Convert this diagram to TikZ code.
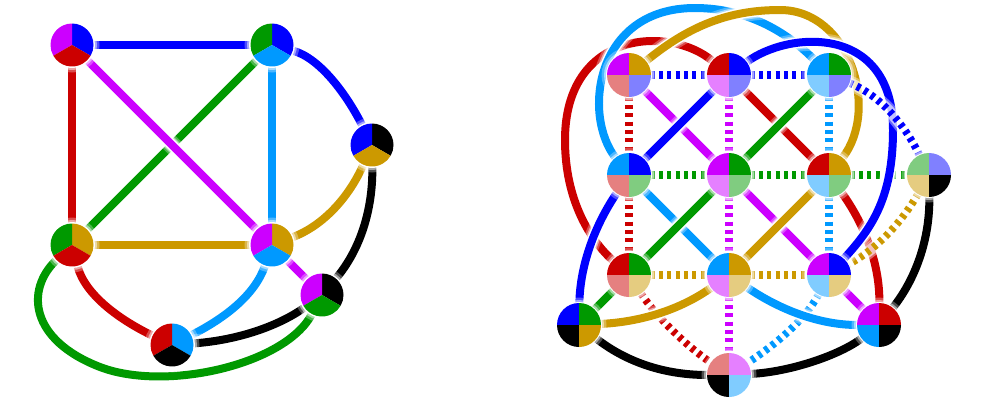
\documentclass[tikz,border=0pt]{standalone}
\definecolor{cP}{HTML}{CC00FF}
\definecolor{cB}{HTML}{0000FF}
\definecolor{cR}{HTML}{CC0000}
\definecolor{cG}{HTML}{009900}
\definecolor{cL}{HTML}{0099FF}
\definecolor{cY}{HTML}{CC9900}
\definecolor{cK}{HTML}{000000}
\colorlet{lP}{cP!50!white}
\colorlet{lB}{cB!50!white}
\colorlet{lR}{cR!50!white}
\colorlet{lG}{cG!50!white}
\colorlet{lL}{cL!50!white}
\colorlet{lY}{cY!50!white}
\newcommand\vhalo[1]{%
 \fill[white,opacity=0.3] (#1) circle[radius=27.5pt];
 \fill[white,opacity=0.5] (#1) circle[radius=25pt];
 \fill[white] (#1) circle[radius=23pt];}
% three-sector pie: #2 right, #3 left, #4 bottom
\newcommand\vpieT[4]{%
 \vhalo{#1}%
 \fill[#2] (#1.center) -- ++(90:21.5pt) arc[start angle=90,end angle=-30,radius=21.5pt] -- cycle;
 \fill[#3] (#1.center) -- ++(90:21.5pt) arc[start angle=90,end angle=210,radius=21.5pt] -- cycle;
 \fill[#4] (#1.center) -- ++(210:21.5pt) arc[start angle=210,end angle=330,radius=21.5pt] -- cycle;}
% four quadrants: #2 TL, #3 TR, #4 BL, #5 BR
\newcommand\vpieQ[5]{%
 \vhalo{#1}%
 \fill[#2] (#1.center) -- ++(90:22pt) arc[start angle=90,end angle=180,radius=22pt] -- cycle;
 \fill[#3] (#1.center) -- ++(0:22pt) arc[start angle=0,end angle=90,radius=22pt] -- cycle;
 \fill[#4] (#1.center) -- ++(180:22pt) arc[start angle=180,end angle=270,radius=22pt] -- cycle;
 \fill[#5] (#1.center) -- ++(270:22pt) arc[start angle=270,end angle=360,radius=22pt] -- cycle;}
\begin{document}
\begin{tikzpicture}[x=1pt,y=-1pt,
 vtx/.style={circle, minimum size=43pt, inner sep=0pt},
 edge/.style={line width=8pt,
   preaction={draw=white, solid, line width=18pt, opacity=0.3},
   preaction={draw=white, solid, line width=14pt, opacity=0.5},
   preaction={draw=white, solid, line width=11pt}},
 dedge/.style={line width=7.5pt, dash pattern=on 4pt off 4.3pt},
 hdedge/.style={dedge,
   preaction={draw=white, solid, line width=15pt, opacity=0.4},
   preaction={draw=white, solid, line width=11pt, opacity=0.6}}]
\fill[white] (0,0) rectangle (983,400);
\useasboundingbox (0,0) rectangle (983,400);
% ---------- left graph ----------
\node[vtx] (A) at (72,45) {};
\node[vtx] (B) at (272,45) {};
\node[vtx] (C) at (372,145) {};
\node[vtx] (D) at (72,245) {};
\node[vtx] (E) at (272,245) {};
\node[vtx] (F) at (322,295) {};
\node[vtx] (G) at (172,345) {};
\draw[edge,cB] (A) -- (B);
\draw[edge,cR] (A) -- (D);
\draw[edge,cG] (B) -- (D);
\draw[edge,cP] (A) -- (E);
\draw[edge,cL] (B) -- (E);
\draw[edge,cY] (D) -- (E);
\draw[edge,cP] (E) -- (F);
\draw[edge,cB] (B) .. controls (320,58) and (347,95) .. (C);
\draw[edge,cY] (E) .. controls (325,225) and (350,195) .. (C);
\draw[edge,cK] (C) .. controls (373,210) and (360,250) .. (F);
\draw[edge,cR] (D) .. controls (85,295) and (120,320) .. (G);
\draw[edge,cL] (E) .. controls (255,295) and (225,318) .. (G);
\draw[edge,cK] (G) .. controls (240,340) and (280,325) .. (F);
\draw[edge,cG] (D) .. controls (25,290) and (30,340) .. (100,367) .. controls (165,392) and (285,365) .. (F);
\vpieT{A}{cB}{cP}{cR}
\vpieT{B}{cB}{cG}{cL}
\vpieT{C}{cK}{cB}{cY}
\vpieT{D}{cY}{cG}{cR}
\vpieT{E}{cY}{cP}{cL}
\vpieT{F}{cK}{cP}{cG}
\vpieT{G}{cL}{cR}{cK}
% ---------- right graph ----------
\node[vtx] (R1) at (629,75) {};
\node[vtx] (R2) at (729,75) {};
\node[vtx] (R3) at (829,75) {};
\node[vtx] (R4) at (629,175) {};
\node[vtx] (R5) at (729,175) {};
\node[vtx] (R6) at (829,175) {};
\node[vtx] (R7) at (929,175) {};
\node[vtx] (R8) at (629,275) {};
\node[vtx] (R9) at (729,275) {};
\node[vtx] (R10) at (829,275) {};
\node[vtx] (R11) at (579,325) {};
\node[vtx] (R12) at (879,325) {};
\node[vtx] (R13) at (729,375) {};
% dashed edges
\draw[dedge,cB] (R1) -- (R2);
\draw[dedge,cB] (R2) -- (R3);
\draw[dedge,cR] (R1) -- (R4);
\draw[dedge,cP] (R2) -- (R5);
\draw[dedge,cL] (R3) -- (R6);
\draw[dedge,cG] (R4) -- (R5);
\draw[dedge,cG] (R5) -- (R6);
\draw[dedge,cG] (R6) -- (R7);
\draw[dedge,cR] (R4) -- (R8);
\draw[dedge,cP] (R5) -- (R9);
\draw[dedge,cL] (R6) -- (R10);
\draw[dedge,cY] (R8) -- (R9);
\draw[dedge,cY] (R9) -- (R10);
\draw[dedge,cP] (R9) -- (R13);
\draw[dedge,cR] (R8) .. controls (655,315) and (685,345) .. (R13);
\draw[dedge,cL] (R10) .. controls (805,320) and (775,345) .. (R13);
% solid edges, lower layer
\draw[edge,cR] (R2) .. controls (670,25) and (565,30) .. (565,140) .. controls (565,200) and (590,240) .. (R8);
\draw[edge,cR] (R6) .. controls (865,225) and (880,265) .. (R12);
\draw[edge,cP] (R1) -- (R5);
\draw[edge,cR] (R2) -- (R6);
\draw[edge,cL] (R4) -- (R9);
\draw[edge,cP] (R5) -- (R10);
\draw[edge,cP] (R10) -- (R12);
\draw[hdedge,cY] (R7) .. controls (900,225) and (875,250) .. (R10);
% big arcs
\draw[edge,cL] (R4) .. controls (582,115) and (595,8) .. (695,8) .. controls (750,8) and (790,35) .. (R3);
\draw[edge,cY] (R1) .. controls (690,25) and (730,10) .. (780,10) .. controls (850,10) and (880,110) .. (R6);
\draw[edge,cB] (R2) .. controls (790,30) and (893,25) .. (893,130) .. controls (893,200) and (870,230) .. (R10);
\draw[hdedge,cB] (R3) .. controls (880,95) and (905,125) .. (R7);
% solid edges, upper layer
\draw[edge,cB] (R2) -- (R4);
\draw[edge,cG] (R3) -- (R5);
\draw[edge,cG] (R5) -- (R8);
\draw[edge,cY] (R6) -- (R9);
\draw[edge,cB] (R4) .. controls (595,225) and (580,265) .. (R11);
\draw[edge,cG] (R8) -- (R11);
\draw[edge,cY] (R9) .. controls (680,310) and (640,322) .. (R11);
\draw[edge,cL] (R9) .. controls (780,310) and (820,325) .. (R12);
\draw[edge,cK] (R7) .. controls (930,240) and (915,280) .. (R12);
\draw[edge,cK] (R11) .. controls (630,365) and (670,375) .. (R13);
\draw[edge,cK] (R13) .. controls (790,372) and (840,355) .. (R12);
% vertices
\vpieQ{R1}{cP}{cY}{lR}{lB}
\vpieQ{R2}{cR}{cB}{lP}{lB}
\vpieQ{R3}{cL}{cG}{lL}{lB}
\vpieQ{R4}{cL}{cB}{lR}{lG}
\vpieQ{R5}{cP}{cG}{lP}{lG}
\vpieQ{R6}{cR}{cY}{lL}{lG}
\vpieQ{R7}{lG}{lB}{lY}{cK}
\vpieQ{R8}{cR}{cG}{lR}{lY}
\vpieQ{R9}{cL}{cY}{lP}{lY}
\vpieQ{R10}{cP}{cB}{lL}{lY}
\vpieQ{R11}{cB}{cG}{cK}{cY}
\vpieQ{R12}{cP}{cR}{cL}{cK}
\vpieQ{R13}{lR}{lP}{cK}{lL}
\end{tikzpicture}
\end{document}
